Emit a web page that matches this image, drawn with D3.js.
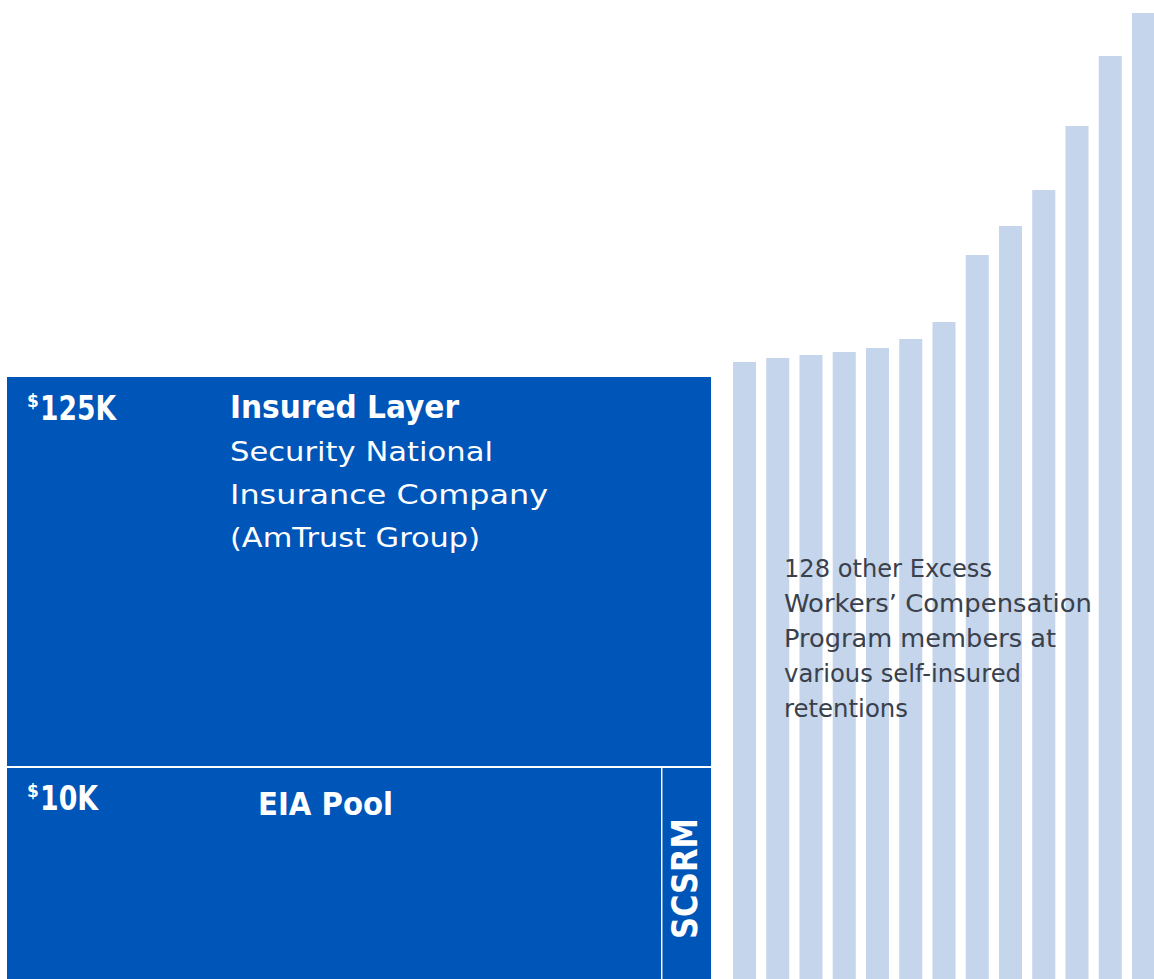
<!DOCTYPE html>
<html>
<head>
<meta charset="utf-8">
<script src="https://cdn.jsdelivr.net/npm/d3@7.9.0/dist/d3.min.js"></script>
<style>
  html, body { margin: 0; padding: 0; background: #fff; }
  svg { display: block; font-family: 'DejaVu Sans', sans-serif; }
</style>
</head>
<body>
<div id="chart"></div>
<script>
// retention layers of the member's tower (in $K)
const layerNames = ['EIA Pool', 'Insured Layer'];
const layerAmounts = ['10K', '125K'];
const layerBounds = [[0, 10], [10, 125]];
const insurerLines = ['Security National', 'Insurance Company', '(AmTrust Group)'];

// split of the first layer between the pool and SCSRM
const poolParts = ['EIA Pool', 'SCSRM'];
const poolShares = [0.93, 0.07];

// other members' relative retention heights (unitless)
const memberIds = d3.range(13);
const memberRetentions = [617, 621, 624, 627, 631, 640, 657, 724, 753, 789, 853, 923, 966];
const memberNote = ['128 other Excess', 'Workers\u2019 Compensation', 'Program members at', 'various self-insured', 'retentions'];

const width = 1154;
const height = 979;
const dark = '#0055b8';
const light = '#c5d5eb';

const svg = d3.select('#chart').append('svg')
  .attr('width', width)
  .attr('height', height);

// tower scales: piecewise so each layer gets its own band
const yTower = d3.scaleLinear().domain([0, 10, 125]).range([height, 767, 377]);
const xTower = d3.scaleLinear().domain([0, 1]).range([7, 711]);

const layers = svg.append('g').attr('class', 'layers');

// insured layer spans full width
layers.append('rect')
  .attr('x', xTower(0))
  .attr('y', yTower(layerBounds[1][1]))
  .attr('width', xTower(1) - xTower(0))
  .attr('height', yTower(layerBounds[1][0]) - yTower(layerBounds[1][1]))
  .attr('fill', dark);

// first layer split into pool and SCSRM
const cum = d3.cumsum(poolShares);
layers.selectAll('rect.part')
  .data(poolParts)
  .join('rect')
  .attr('class', 'part')
  .attr('x', (d, i) => xTower(i === 0 ? 0 : cum[i - 1]))
  .attr('y', yTower(layerBounds[0][1]))
  .attr('width', (d, i) => xTower(poolShares[i]) - xTower(0))
  .attr('height', yTower(layerBounds[0][0]) - yTower(layerBounds[0][1]))
  .attr('fill', dark);

// white dividers
layers.append('line')
  .attr('x1', xTower(0)).attr('x2', xTower(1))
  .attr('y1', yTower(10)).attr('y2', yTower(10))
  .attr('stroke', '#fff').attr('stroke-width', 2);
layers.append('line')
  .attr('x1', xTower(cum[0])).attr('x2', xTower(cum[0]))
  .attr('y1', yTower(10)).attr('y2', height)
  .attr('stroke', '#fff').attr('stroke-width', 1.5);

// amount labels with superscript dollar sign
const amountWidths = [58, 76];
layerAmounts.forEach((amt, i) => {
  const top = yTower(layerBounds[i][1]);
  const t = svg.append('text')
    .attr('fill', '#fff')
    .attr('font-weight', 'bold');
  t.append('tspan')
    .attr('x', 27).attr('y', top + 30)
    .attr('font-size', 17)
    .text('$');
  t.append('tspan')
    .attr('x', 40).attr('y', top + 43)
    .attr('font-size', 33)
    .attr('textLength', amountWidths[i])
    .attr('lengthAdjust', 'spacingAndGlyphs')
    .text(amt);
});

// layer names
const nameX = [258, 230];
const nameWidths = [135, 229];
layerNames.forEach((name, i) => {
  svg.append('text')
    .attr('x', nameX[i])
    .attr('y', yTower(layerBounds[i][1]) + (i === 0 ? 48 : 41))
    .attr('fill', '#fff')
    .attr('font-weight', 'bold')
    .attr('font-size', 32)
    .attr('textLength', nameWidths[i])
    .attr('lengthAdjust', 'spacingAndGlyphs')
    .text(name);
});

const insurerWidths = [263, 318, 250];
svg.append('g')
  .selectAll('text')
  .data(insurerLines)
  .join('text')
  .attr('x', 230)
  .attr('y', (d, i) => yTower(125) + 84 + i * 43)
  .attr('fill', '#fff')
  .attr('font-size', 27)
  .attr('textLength', (d, i) => insurerWidths[i])
  .attr('lengthAdjust', 'spacingAndGlyphs')
  .text((d) => d);

// SCSRM vertical label
const scsrmX = (xTower(cum[0]) + xTower(1)) / 2;
svg.append('text')
  .attr('transform', `translate(${scsrmX + 11},${(yTower(10) + height) / 2 + 5.5}) rotate(-90)`)
  .attr('text-anchor', 'middle')
  .attr('fill', '#fff')
  .attr('font-weight', 'bold')
  .attr('font-size', 36)
  .attr('textLength', 121)
  .attr('lengthAdjust', 'spacingAndGlyphs')
  .text(poolParts[1]);

// other members' bars
const xBars = d3.scaleBand().domain(memberIds).range([733, 1155]).paddingInner(0.308).paddingOuter(0);
const yBars = d3.scaleLinear().domain([0, 966]).range([height, 13]);

svg.append('g')
  .attr('class', 'bars')
  .selectAll('rect')
  .data(memberRetentions)
  .join('rect')
  .attr('x', (d, i) => xBars(memberIds[i]))
  .attr('y', (d) => yBars(d))
  .attr('width', xBars.bandwidth())
  .attr('height', (d) => yBars(0) - yBars(d))
  .attr('fill', light);

const noteWidths = [208, 308, 272, 237, 124];
svg.append('g')
  .selectAll('text')
  .data(memberNote)
  .join('text')
  .attr('x', 784)
  .attr('y', (d, i) => 577 + i * 35)
  .attr('fill', '#3a414c')
  .attr('font-size', 25)
  .attr('textLength', (d, i) => noteWidths[i])
  .attr('lengthAdjust', 'spacingAndGlyphs')
  .text((d) => d);
</script>
</body>
</html>
